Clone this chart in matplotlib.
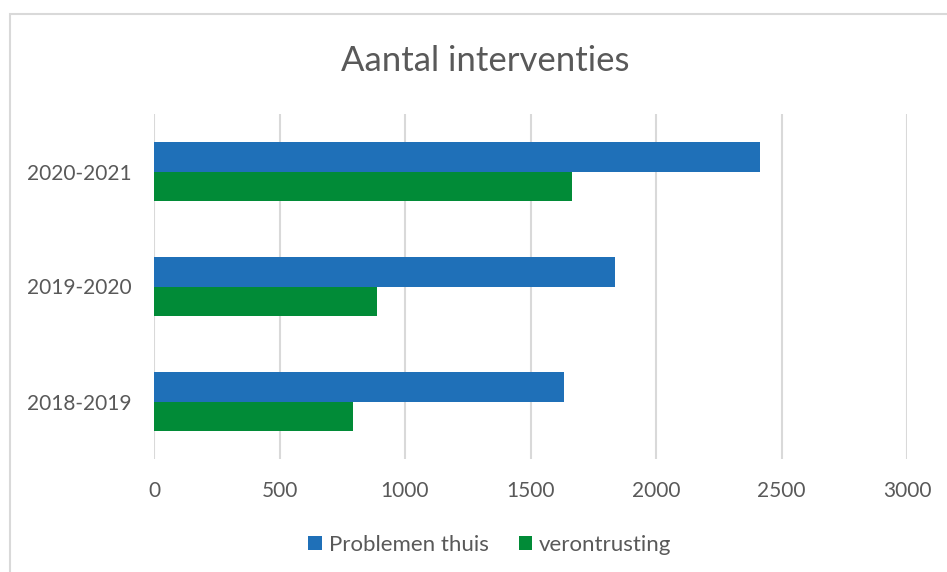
"""Recreate the 'Aantal interventies' horizontal bar chart."""
import matplotlib
matplotlib.use("Agg")
import matplotlib.pyplot as plt
import numpy as np
from matplotlib.patches import Rectangle

# --- Data ---
categories = ["2018-2019", "2019-2020", "2020-2021"]
problemen_thuis = [1632, 1838, 2413]
verontrusting = [792, 890, 1664]
x_ticks = [0, 500, 1000, 1500, 2000, 2500, 3000]

BLUE = "#1F70B8"
GREEN = "#018B37"
TEXT = "#595959"
GRID = "#D9D9D9"

plt.rcParams["font.family"] = ["Lato", "DejaVu Sans"]

fig = plt.figure(figsize=(9.47, 5.72), dpi=100)
ax = fig.add_axes([154 / 947, (572 - 459) / 572, 753 / 947, 345 / 572])

# chart border (Excel-style outer frame)
fig.patches.append(Rectangle((10 / 947, -0.1), 1.2, (572 - 14) / 572 + 0.1,
                             transform=fig.transFigure, fill=False,
                             edgecolor=GRID, linewidth=1.5))

y = np.arange(len(categories))
bar_h = 0.26
ax.barh(y + bar_h / 2, problemen_thuis, height=bar_h, color=BLUE,
        label="Problemen thuis")
ax.barh(y - bar_h / 2, verontrusting, height=bar_h, color=GREEN,
        label="verontrusting")

ax.set_xlim(0, 3000)
ax.set_ylim(-0.5, len(categories) - 0.5)
ax.set_xticks(x_ticks)
ax.set_xticklabels([str(t) for t in x_ticks])
ax.set_yticks(y)
ax.set_yticklabels(categories)

ax.grid(axis="x", color=GRID, linewidth=1.5)
ax.set_axisbelow(True)
for side in ["top", "right", "bottom", "left"]:
    ax.spines[side].set_visible(False)
ax.tick_params(axis="both", length=0, colors=TEXT, labelsize=15)
ax.tick_params(axis="y", pad=16)
ax.tick_params(axis="x", pad=16)

fig.text(485 / 947, 1 - 61 / 572, "Aantal interventies", ha="center",
         va="center", fontsize=25, color=TEXT)

ax.legend(loc="center", bbox_to_anchor=(490 / 947, 1 - 545 / 572),
          bbox_transform=fig.transFigure, ncol=2, frameon=False,
          fontsize=16, labelcolor=TEXT, handlelength=0.6, handleheight=0.6,
          handletextpad=0.32, columnspacing=1.35)

fig.savefig("out.png", dpi=100)
